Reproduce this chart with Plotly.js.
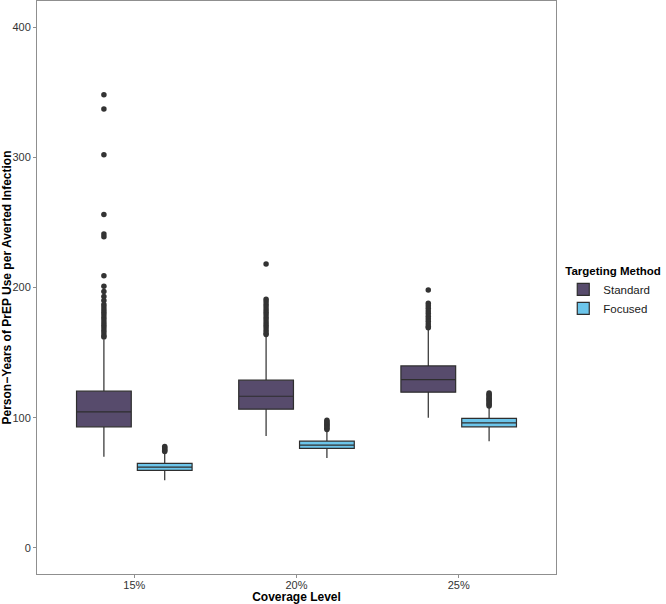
<!DOCTYPE html>
<html>
<head>
<meta charset="utf-8">
<script src="https://cdn.plot.ly/plotly-3.0.1.min.js"></script>
<style>html,body{margin:0;padding:0;background:#fff;}#chart{width:666px;height:604px;}</style>
</head>
<body>
<div id="chart"></div>
<script>
const categories = ['15%', '20%', '25%'];

const stdQ1 = [93, 106.6, 119.6];
const stdMedian = [104.5, 116.5, 129.3];
const stdQ3 = [120.4, 128.8, 139.8];
const stdLower = [70, 86, 100];
const stdUpper = [160, 163, 168];

const focQ1 = [59.5, 76.5, 93];
const focMedian = [62, 79, 96];
const focQ3 = [65, 82, 99.5];
const focLower = [52, 69, 82];
const focUpper = [73, 90, 108];

const stdOut15 = [348, 337, 302, 256, 241, 239, 209, 201, 197, 193, 190, 187, 185, 183, 181, 179, 177, 175, 173, 171, 169, 167, 165, 163, 162];
const stdOut20 = [218, 191, 189, 187, 185, 183, 181, 179, 177, 175, 173, 171, 169, 167, 165, 164];
const stdOut25 = [198, 188, 186, 184, 182, 180, 178, 176, 174, 172, 170, 169];
const focOut15 = [74, 75, 76, 77, 78];
const focOut20 = [91, 92, 93, 94, 95, 96, 97, 98];
const focOut25 = [109, 110, 111, 112, 113, 114, 115, 116, 117, 118, 119];

const seriesNames = ['Standard', 'Focused'];
const fills = ['#574b6c', '#6cc5ea'];

function outlierXY(lists) {
  const x = [], y = [];
  lists.forEach((arr, i) => arr.forEach(v => { x.push(categories[i]); y.push(v); }));
  return {x, y};
}

const boxStyle = {
  type: 'box', x: categories,
  line: {color: '#2e2e2e', width: 1.2},
  whiskerwidth: 0,
  boxpoints: false,
  hoverinfo: 'skip'
};

const stdOut = outlierXY([stdOut15, stdOut20, stdOut25]);
const focOut = outlierXY([focOut15, focOut20, focOut25]);

const traces = [
  Object.assign({}, boxStyle, {name: seriesNames[0], offsetgroup: 'std', q1: stdQ1, median: stdMedian, q3: stdQ3, lowerfence: stdLower, upperfence: stdUpper, fillcolor: fills[0]}),
  Object.assign({}, boxStyle, {name: seriesNames[1], offsetgroup: 'foc', q1: focQ1, median: focMedian, q3: focQ3, lowerfence: focLower, upperfence: focUpper, fillcolor: fills[1]}),
  {type: 'scatter', mode: 'markers', x: stdOut.x, y: stdOut.y, offsetgroup: 'std', showlegend: false, hoverinfo: 'skip',
   marker: {color: '#333333', size: 5.5}},
  {type: 'scatter', mode: 'markers', x: focOut.x, y: focOut.y, offsetgroup: 'foc', showlegend: false, hoverinfo: 'skip',
   marker: {color: '#333333', size: 5.5}}
];

const axisFont = {family: 'Liberation Sans, Arial, sans-serif', size: 11, color: '#333333'};
const titleFont = {family: 'Liberation Sans, Arial, sans-serif', size: 12, color: '#000000', weight: 700};

const layout = {
  width: 666, height: 604,
  margin: {l: 37, r: 110, t: 1, b: 30, autoexpand: false},
  paper_bgcolor: '#ffffff', plot_bgcolor: '#ffffff',
  boxmode: 'group', boxgap: 0.25, boxgroupgap: 0.1,
  scattermode: 'group', scattergap: 0.25,
  hovermode: false,
  xaxis: {
    type: 'category', categoryorder: 'array', categoryarray: categories,
    range: [-0.6, 2.6],
    showline: true, mirror: true, linecolor: '#8f8f8f', linewidth: 1,
    showgrid: false, zeroline: false,
    ticks: 'outside', ticklen: 3, tickcolor: '#8f8f8f',
    ticklabelstandoff: -2,
    tickfont: axisFont,
    title: {text: 'Coverage Level', font: titleFont, standoff: 5},
    automargin: false
  },
  yaxis: {
    range: [-20, 420],
    tickvals: [0, 100, 200, 300, 400],
    showline: true, mirror: true, linecolor: '#8f8f8f', linewidth: 1,
    showgrid: false, zeroline: false,
    ticks: 'outside', ticklen: 3, tickcolor: '#8f8f8f',
    tickfont: axisFont,
    title: {text: 'Person\u2212Years of PrEP Use per Averted Infection', font: titleFont, standoff: 8},
    automargin: false
  },
  showlegend: true,
  legend: {
    x: 1.014, xanchor: 'left', y: 0.548, yanchor: 'top',
    bgcolor: 'rgba(0,0,0,0)',
    title: {text: 'Targeting Method', font: Object.assign({}, titleFont, {size: 11.5})},
    font: {family: 'Liberation Sans, Arial, sans-serif', size: 11.5, color: '#1a1a1a'},
    tracegroupgap: 0, itemwidth: 30
  }
};

Plotly.newPlot('chart', traces, layout, {displayModeBar: false, staticPlot: true});
</script>
</body>
</html>
